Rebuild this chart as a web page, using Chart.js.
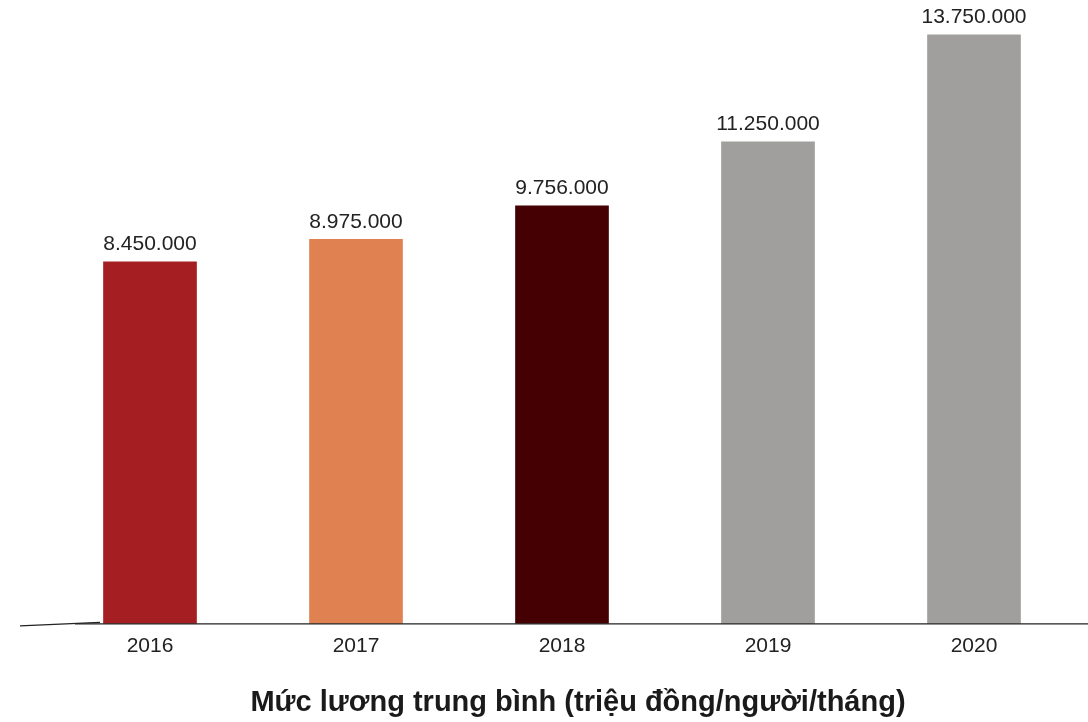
<!DOCTYPE html>
<html>
<head>
<meta charset="utf-8">
<script src="https://cdn.jsdelivr.net/npm/chart.js@4.4.0/dist/chart.umd.min.js"></script>
<style>
  html, body { margin: 0; padding: 0; background: #ffffff; }
  #wrap { width: 1088px; height: 722px; position: relative; }
</style>
</head>
<body>
<div id="wrap"><canvas id="c" width="1088" height="722"></canvas></div>
<script>
const years = ['2016', '2017', '2018', '2019', '2020'];
const salaries = [8450000, 8975000, 9756000, 11250000, 13750000];
const barColors = ['#A51E22', '#E08152', '#450003', '#A09F9D', '#A09F9D'];
const titleText = 'Mức lương trung bình (triệu đồng/người/tháng)';

function fmt(v) {
  return String(v).replace(/\B(?=(\d{3})+(?!\d))/g, '.');
}

const valueLabels = {
  id: 'valueLabels',
  afterDatasetsDraw(chart) {
    const ctx = chart.ctx;
    const meta = chart.getDatasetMeta(0);
    ctx.save();
    ctx.font = '21px "Liberation Sans", Arial, sans-serif';
    ctx.fillStyle = '#222222';
    ctx.textAlign = 'center';
    ctx.textBaseline = 'bottom';
    meta.data.forEach((bar, i) => {
      ctx.fillText(fmt(salaries[i]), bar.x, bar.y - 7);
    });
    ctx.restore();
  }
};

const baseline = {
  id: 'baseline',
  afterDatasetsDraw(chart) {
    const ctx = chart.ctx;
    const y = chart.scales.y.getPixelForValue(0);
    ctx.save();
    ctx.strokeStyle = '#222222';
    ctx.lineWidth = 1.3;
    ctx.beginPath();
    ctx.moveTo(20, y + 2);
    ctx.lineTo(100, y - 1.5);
    ctx.stroke();
    ctx.beginPath();
    ctx.moveTo(75, y);
    ctx.lineTo(1088, y);
    ctx.stroke();
    ctx.restore();
  }
};

const bottomTitle = {
  id: 'bottomTitle',
  afterDraw(chart) {
    const ctx = chart.ctx;
    ctx.save();
    ctx.font = 'bold 29px "Liberation Sans", Arial, sans-serif';
    ctx.fillStyle = '#1a1a1a';
    ctx.textAlign = 'center';
    ctx.textBaseline = 'middle';
    ctx.fillText(titleText, 578, 703);
    ctx.restore();
  }
};

new Chart(document.getElementById('c'), {
  type: 'bar',
  data: {
    labels: years,
    datasets: [{
      data: salaries,
      backgroundColor: barColors,
      borderWidth: 0,
      barThickness: 93
    }]
  },
  options: {
    responsive: false,
    animation: false,
    layout: { padding: { left: 47, right: 11, top: 24, bottom: 53 } },
    plugins: {
      legend: { display: false },
      tooltip: { enabled: false },
      title: { display: false }
    },
    scales: {
      x: {
        grid: { display: false, drawTicks: false },
        border: { display: false },
        ticks: {
          color: '#222222',
          font: { family: '"Liberation Sans", Arial, sans-serif', size: 21 },
          padding: 10
        }
      },
      y: {
        display: false,
        min: 0,
        max: 14000000
      }
    }
  },
  plugins: [valueLabels, baseline, bottomTitle]
});
</script>
</body>
</html>
